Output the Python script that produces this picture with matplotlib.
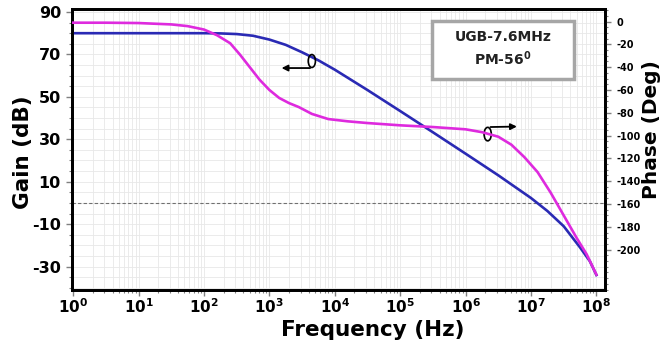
import matplotlib
matplotlib.use('Agg')
import matplotlib.pyplot as plt
import matplotlib.ticker as ticker
from matplotlib.patches import Ellipse, Rectangle
import numpy as np

plt.rcParams['font.family'] = 'DejaVu Sans'
plt.rcParams['font.weight'] = 'bold'
plt.rcParams['mathtext.default'] = 'bf'

# gain curve (log10 of frequency, dB)
gain_logf = [0, 0.5, 1, 1.5, 2, 2.25, 2.5, 2.75, 3, 3.25, 3.5, 3.75, 4, 4.5,
             5, 5.5, 6, 6.5, 7, 7.25, 7.5, 7.75, 7.9, 8]
gain_db = [80, 80, 80, 80, 80, 79.9, 79.6, 78.8, 77, 74.5, 71, 67.2, 62.8, 53.2,
           43.3, 33.3, 23.2, 13, 2.3, -3.8, -11, -21, -27.5, -34]

# phase curve (log10 of frequency, degrees)
phase_logf = [0, 0.5, 1, 1.5, 1.75, 2, 2.2, 2.4, 2.55, 2.7, 2.85, 3, 3.15, 3.3,
              3.45, 3.65, 3.9, 4.2, 4.5, 5, 5.5, 6, 6.25, 6.5, 6.7, 6.9, 7.1,
              7.3, 7.5, 7.7, 7.85, 8]
phase_deg = [-1, -1, -1.3, -2.5, -4, -7, -12, -19, -29, -40, -51, -60, -67, -71.5,
             -75, -81, -85.5, -87.5, -89, -91, -92.5, -94.5, -97, -101, -108, -119, -132,
             -150, -170, -190, -204, -222]

gain_ticks = [90, 70, 50, 30, 10, -10, -30]
phase_ticks = [0, -20, -40, -60, -80, -100, -120, -140, -160, -180, -200]
freq_ticks = [1e0, 1e1, 1e2, 1e3, 1e4, 1e5, 1e6, 1e7, 1e8]
freq_labels = [r'$10^{%d}$' % i for i in range(9)]

fig = plt.figure(figsize=(6.62, 3.47), dpi=100)
ax = fig.add_axes([0.1088, 0.164, 0.805, 0.810])

ax.semilogx(10.0 ** np.array(gain_logf), gain_db, color='#2a2ab4', lw=1.9, zorder=3)
ax.axhline(0, color='#707070', lw=0.8, ls=(0, (3, 2)), zorder=2)

ax.set_xlim(0.96, 1.35e8)
ax.set_ylim(-41.1, 91.4)
ax.set_xticks(freq_ticks)
ax.set_xticklabels(freq_labels, fontsize=11)
ax.xaxis.set_minor_locator(ticker.LogLocator(base=10, subs=np.arange(2, 10)))
ax.xaxis.set_minor_formatter(ticker.NullFormatter())
ax.set_yticks(gain_ticks)
ax.set_yticklabels([str(t) for t in gain_ticks], fontsize=11.5, fontweight='bold')
ax.yaxis.set_minor_locator(ticker.MultipleLocator(5))
ax.tick_params(which='both', direction='out', color='#808080')
ax.tick_params(which='major', length=4, width=1)
ax.tick_params(which='minor', length=2.5, width=0.8)
ax.tick_params(axis='y', pad=4)
ax.tick_params(axis='x', pad=1.5)
ax.grid(which='both', color='#e8e8e8', lw=0.6)
ax.set_axisbelow(True)

ax.set_xlabel('Frequency (Hz)', fontsize=15.5, fontweight='bold')
ax.xaxis.set_label_coords(0.565, -0.105)
ax.set_ylabel('Gain (dB)', fontsize=15.5, fontweight='bold')
ax.yaxis.set_label_coords(-0.073, 0.49)

ax2 = ax.twinx()
ax2.semilogx(10.0 ** np.array(phase_logf), phase_deg, color='#de2ade', lw=1.9, zorder=3)
ax2.set_ylim(-235.5, 11)
ax2.set_yticks(phase_ticks)
ax2.set_yticklabels([str(t) for t in phase_ticks], fontsize=7, fontweight='bold')
ax2.yaxis.set_minor_locator(ticker.MultipleLocator(5))
ax2.tick_params(which='both', direction='out', color='#808080')
ax2.tick_params(which='major', length=4, width=1, pad=4)
ax2.tick_params(which='minor', length=2.5, width=0.8)
ax2.set_ylabel('Phase (Deg)', fontsize=14.5, fontweight='bold')
ax2.yaxis.set_label_coords(1.070, 0.57)

for a in (ax, ax2):
    for s in a.spines.values():
        s.set_linewidth(2)
        s.set_color('black')

# curve markers
ax.add_patch(Ellipse((0.450, 0.815), 0.0135, 0.046, transform=ax.transAxes,
                     fill=False, lw=1.2, color='black', zorder=5))
ax.annotate('', xy=(0.388, 0.790), xytext=(0.452, 0.790), xycoords='axes fraction',
            arrowprops=dict(arrowstyle='-|>', color='black', lw=1.3, mutation_scale=9))
ax.add_patch(Ellipse((0.780, 0.555), 0.0135, 0.048, transform=ax.transAxes,
                     fill=False, lw=1.2, color='black', zorder=5))
ax.annotate('', xy=(0.840, 0.582), xytext=(0.780, 0.580), xycoords='axes fraction',
            arrowprops=dict(arrowstyle='-|>', color='black', lw=1.3, mutation_scale=9))

# info box
ax.add_patch(Rectangle((0.675, 0.750), 0.267, 0.208, transform=ax.transAxes,
                       facecolor='white', edgecolor='#a6a6a6', lw=2.5, zorder=6))
ax.text(0.809, 0.900, 'UGB-7.6MHz', transform=ax.transAxes, ha='center', va='center',
        fontsize=10, fontweight='bold', color='#222222', zorder=7)
ax.text(0.809, 0.825, r'PM-56$^0$', transform=ax.transAxes, ha='center', va='center',
        fontsize=10, fontweight='bold', color='#222222', zorder=7)

fig.savefig('out.png', dpi=100)
